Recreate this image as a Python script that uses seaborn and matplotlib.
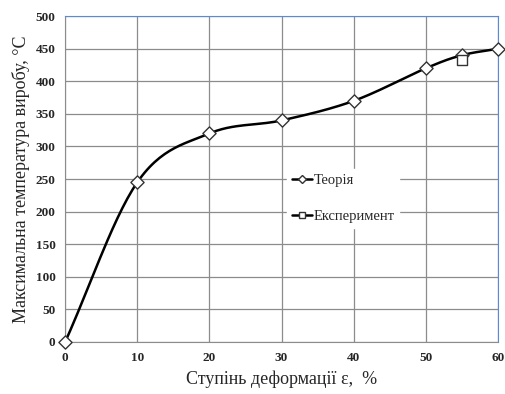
import numpy as np
import pandas as pd
import seaborn as sns
import matplotlib.pyplot as plt

# Data
strain = [0, 10, 20, 30, 40, 50, 55, 60]
temp_theory = [0, 245, 320, 340, 370, 420, 440, 450]
strain_exp = [55]
temp_exp = [432]


def smooth(x, y, n=30):
    # Catmull-Rom spline, close to Excel's smoothed line
    x = np.asarray(x, float)
    y = np.asarray(y, float)
    px = np.concatenate([[2 * x[0] - x[1]], x, [2 * x[-1] - x[-2]]])
    py = np.concatenate([[2 * y[0] - y[1]], y, [2 * y[-1] - y[-2]]])
    xs, ys = [], []
    t = np.linspace(0, 1, n)
    for i in range(1, len(px) - 2):
        for p, out in ((px, xs), (py, ys)):
            p0, p1, p2, p3 = p[i - 1], p[i], p[i + 1], p[i + 2]
            out.extend(0.5 * (2 * p1 + (-p0 + p2) * t
                              + (2 * p0 - 5 * p1 + 4 * p2 - p3) * t ** 2
                              + (-p0 + 3 * p1 - 3 * p2 + p3) * t ** 3))
    return np.array(xs), np.array(ys)


sx, sy = smooth(strain, temp_theory)
df_curve = pd.DataFrame({"x": sx, "y": sy})
df_theory = pd.DataFrame({"x": strain, "y": temp_theory})
df_exp = pd.DataFrame({"x": strain_exp, "y": temp_exp})

sns.set_style("white")
plt.rcParams["font.family"] = ["Liberation Serif", "DejaVu Serif"]

fig = plt.figure(figsize=(5.05, 3.94), dpi=100)
ax = fig.add_axes([0.129, 0.132, 0.857, 0.827])

sns.lineplot(data=df_curve, x="x", y="y", ax=ax, color="black", lw=1.8,
             sort=False, zorder=3, legend=False)
sns.scatterplot(data=df_theory, x="x", y="y", ax=ax, marker="D", s=45,
                facecolor="white", edgecolor="#333333", linewidth=1, zorder=4)
sns.scatterplot(data=df_exp, x="x", y="y", ax=ax, marker="s", s=60,
                facecolor="white", edgecolor="#333333", linewidth=1, zorder=5)
for c in ax.collections + ax.lines:
    c.set_clip_on(False)

ax.set_xlim(0, 60)
ax.set_ylim(0, 500)
ax.set_xticks(range(0, 61, 10))
ax.set_yticks(range(0, 501, 50))
ax.grid(True, color="#8c8c8c", lw=0.9)
ax.set_axisbelow(True)
for s in ["left", "bottom"]:
    ax.spines[s].set_color("#8c8c8c")
for s in ["top", "right"]:
    ax.spines[s].set_color("#5b8bd6")
ax.tick_params(axis="both", length=0, pad=7, labelsize=9.5)
for lab in ax.get_xticklabels() + ax.get_yticklabels():
    lab.set_fontweight("bold")

ax.set_xlabel("Ступінь деформації ε,  %", fontsize=13, labelpad=5)
ax.set_ylabel("Максимальна температура виробу, °С", fontsize=13, labelpad=4)

h1 = plt.Line2D([], [], color="black", lw=1.8, marker="D", ms=4,
                mfc="white", mec="#333333")
h2 = plt.Line2D([], [], color="black", lw=1.8, marker="s", ms=5,
                mfc="white", mec="#333333")
leg = ax.legend([h1, h2], ["Теорія", "Експеримент"], loc="upper left",
                bbox_to_anchor=(280 / 505, 1 - 162 / 394),
                bbox_transform=fig.transFigure, frameon=True, fontsize=10.5,
                handlelength=1.4, handletextpad=0.1, labelspacing=1.6,
                borderpad=0.3, fancybox=False)
leg.get_frame().set_edgecolor("white")
leg.get_frame().set_facecolor("white")
leg.get_frame().set_alpha(1)

fig.savefig("out.png", dpi=100)
